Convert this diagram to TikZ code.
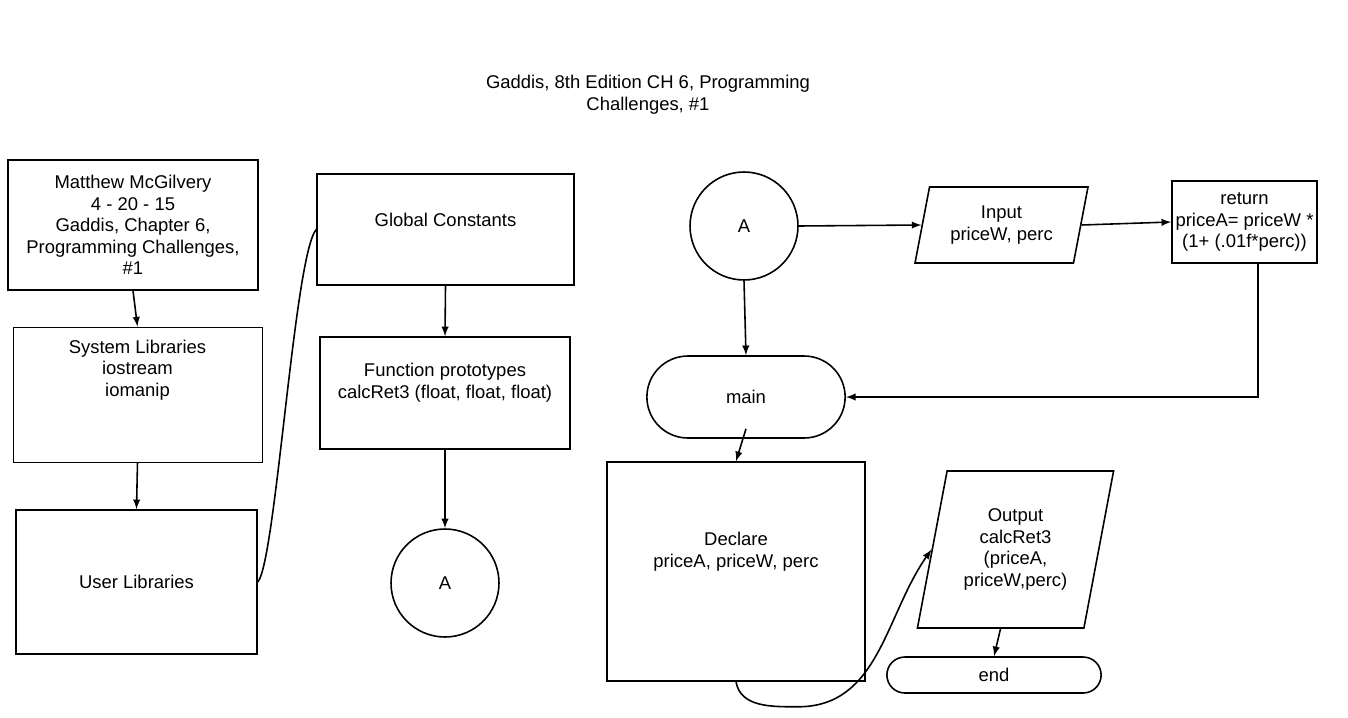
\documentclass[tikz,border=0pt]{standalone}
\usepackage{fontspec}
\setmainfont{Liberation Sans}
\usetikzlibrary{arrows,shapes.geometric,shapes.misc}

\begin{document}
\begin{tikzpicture}[x=0.02cm, y=-0.02cm, >=latex,
  every node/.style={font=\fontsize{10.5}{12.3}\selectfont, align=center},
  box/.style={draw, line width=0.9pt, rectangle},
  io/.style={draw, line width=0.9pt, trapezium, trapezium stretches=true},
  term/.style={draw, line width=0.9pt, rounded rectangle},
  conn/.style={draw, line width=0.9pt, circle, minimum size=2.16cm}]
  \useasboundingbox (0,0) rectangle (1348,717);

  \node (title) at (648,95) {Gaddis, 8th Edition CH 6, Programming\\Challenges, \#1};

  \node[box, minimum width=5cm, minimum height=2.6cm] (hdr) at (133,225)
    {Matthew McGilvery\\4 - 20 - 15\\Gaddis, Chapter 6,\\Programming Challenges,\\\#1};
  \node[box, line width=0.5pt, minimum width=4.98cm, minimum height=2.7cm,
    label={[anchor=north, yshift=-0.14cm]north:System Libraries\\iostream\\iomanip}] (syslib) at (137.5,394.5) {};
  \node[box, minimum width=4.82cm, minimum height=2.88cm] (usrlib) at (136.5,582) {User Libraries};

  \node[box, minimum width=5.14cm, minimum height=2.22cm,
    label={[yshift=0.2cm]center:Global Constants}] (glob) at (445.5,229.5) {};
  \node[box, minimum width=5cm, minimum height=2.24cm,
    label={[yshift=0.2cm]center:{Function prototypes\\calcRet3 (float, float, float)}}] (proto) at (445,393) {};
  \node[conn] (conA) at (445,583) {A};

  \node[conn] (conB) at (744,226) {A};
  \node[io, trapezium left angle=77, trapezium right angle=103, minimum width=3.46cm, minimum height=1.52cm]
    (inp) at (1001.5,225) {Input\\priceW, perc};
  \node[box, inner xsep=1pt, minimum width=2.9cm, minimum height=1.64cm] (ret) at (1244.5,222)
    {return\\priceA= priceW *\\(1+ (.01f*perc))};
  \node[term, minimum width=4.2cm, minimum height=1.64cm] (main) at (746,397) {main};
  \node[box, minimum width=5.16cm, minimum height=4.38cm,
    label={[yshift=0.4cm]center:{Declare\\priceA, priceW, perc}}] (decl) at (736,571.5) {};
  \node[io, trapezium left angle=75, trapezium right angle=105, minimum width=3.94cm, minimum height=3.14cm]
    (out) at (1015.5,549.5) {Output\\calcRet3\\(priceA,\\priceW,perc)};
  \node[term, minimum width=4.52cm, minimum height=0.72cm] (endn) at (994,675) {end};

  \path[->, line width=0.9pt]
    (hdr.south) edge (syslib.north)
    (syslib.south) edge (usrlib.north)
    (glob.south) edge (proto.north)
    (proto.south) edge (conA.north)
    (conB.east) edge (inp.left side)
    (inp.right side) edge (ret.west)
    (conB.south) edge (main.north)
    ([yshift=0.2cm]main.south) edge (decl.north)
    (out.bottom side) edge (endn.north)
    ;
  \draw[->, line width=0.9pt] ([xshift=0.27cm]ret.south) |- (main.east);
  \draw[line width=0.9pt] (usrlib.east) .. controls +(18,-20) and +(-22,25) .. (glob.west);
  \draw[->, line width=0.9pt] (decl.south) to[out=-80, in=180] +(62,25) to[out=0, in=235] (out.left side);
\end{tikzpicture}
\end{document}
